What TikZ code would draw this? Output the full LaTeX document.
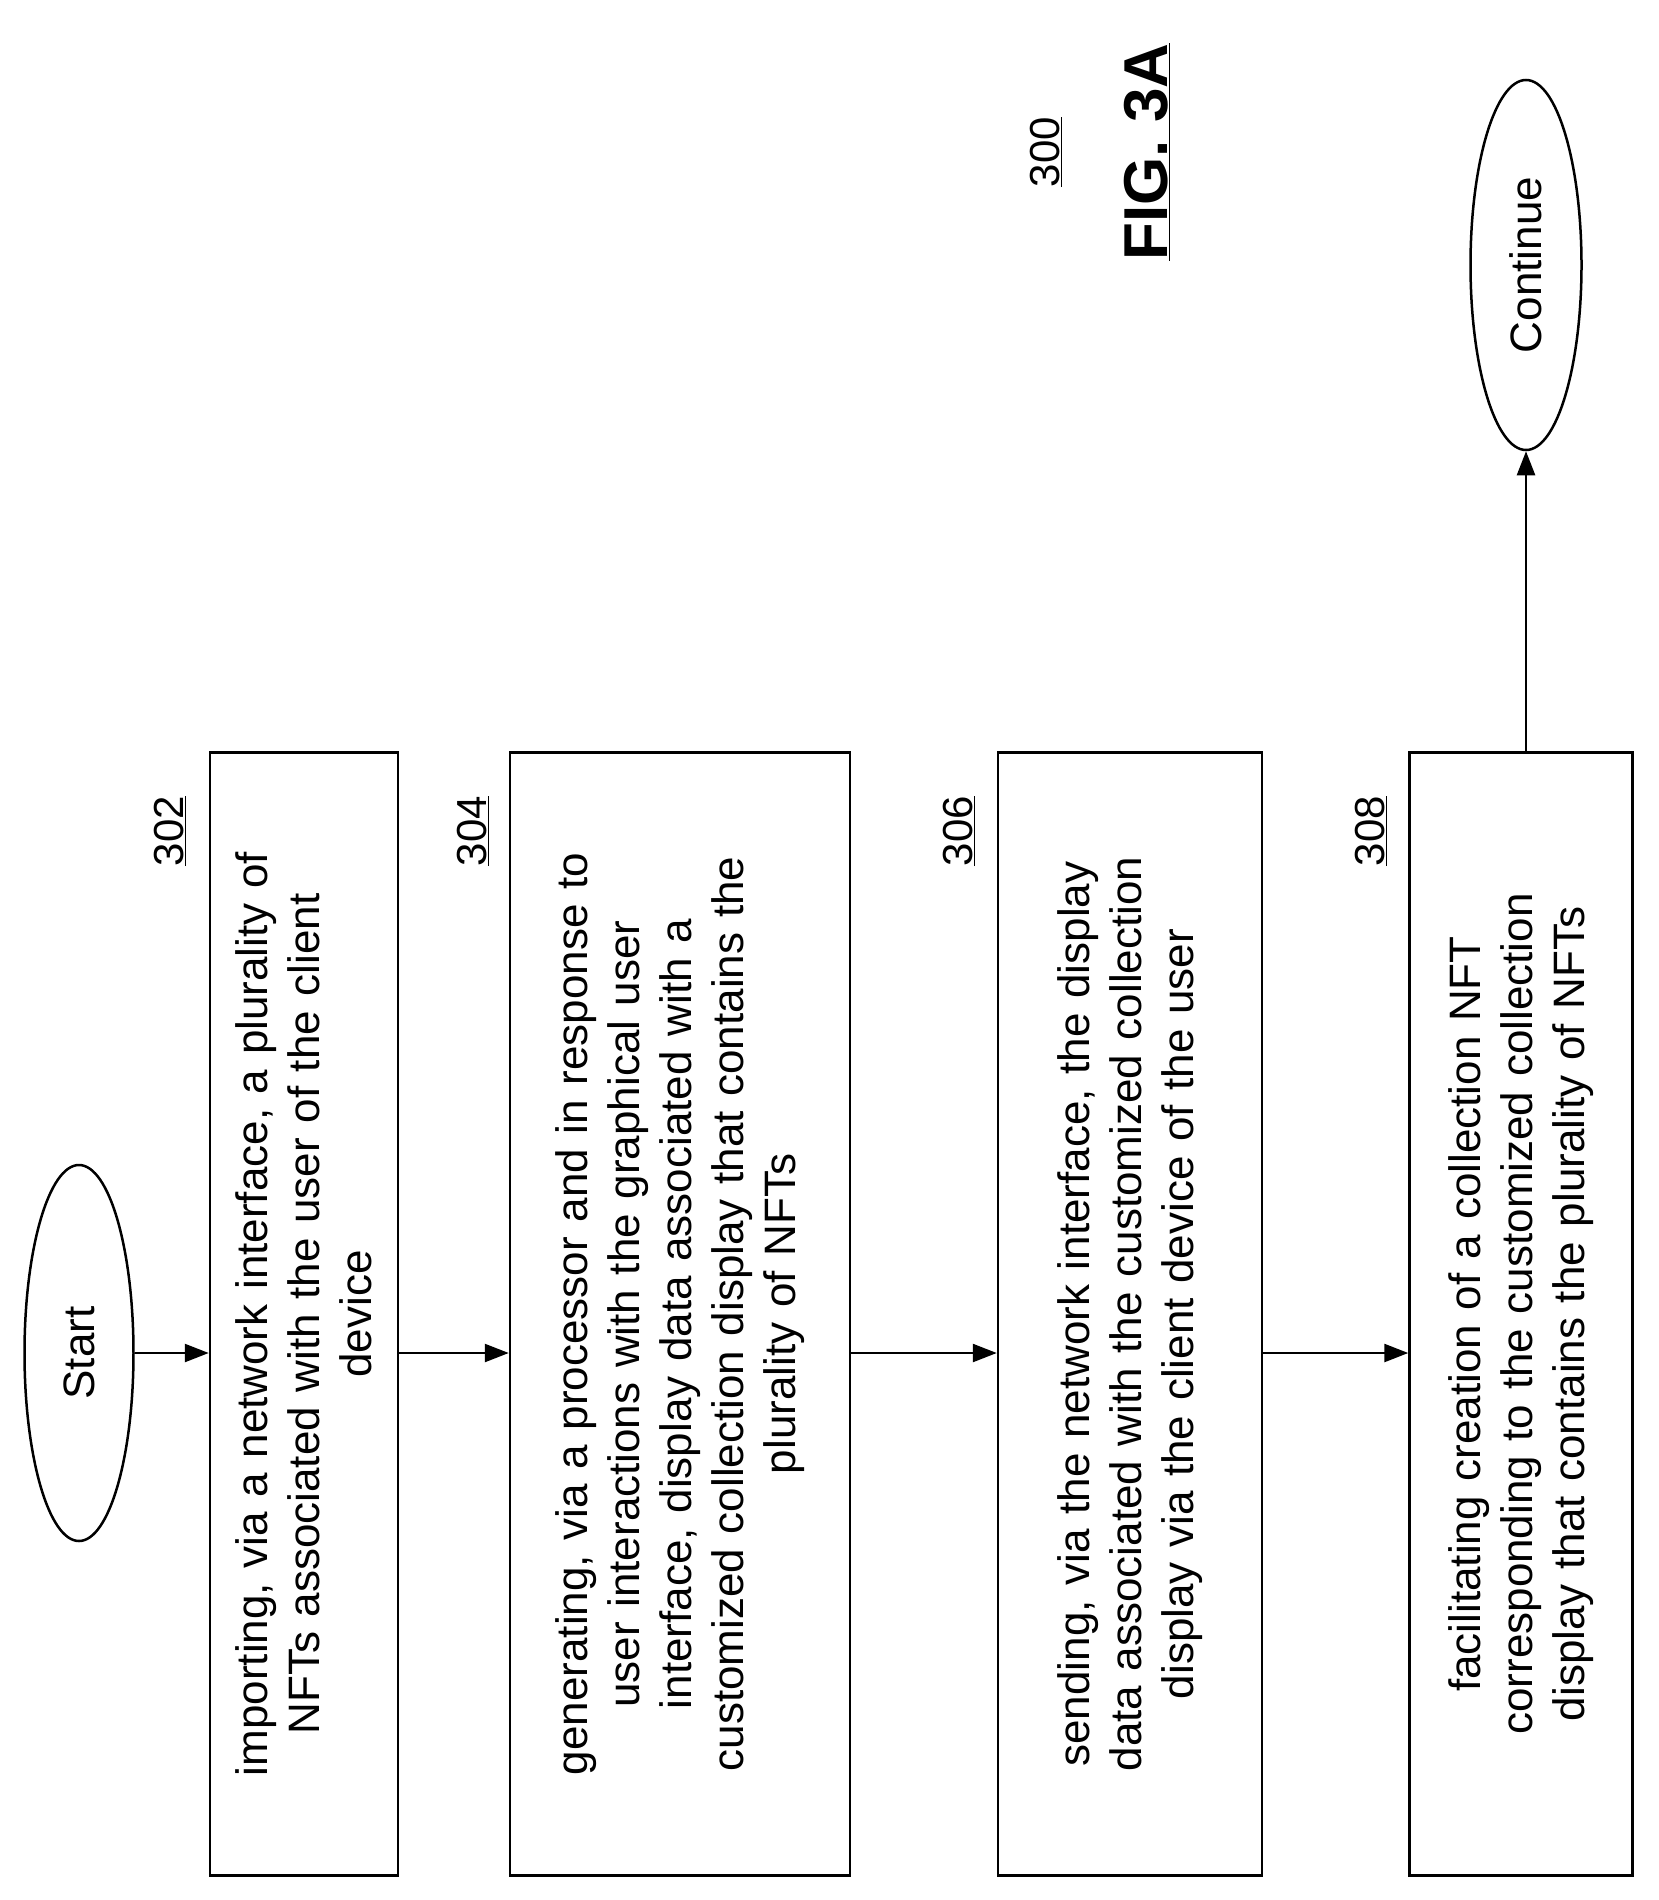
\documentclass[tikz,border=0pt]{standalone}
\usepackage{fontspec}
\setmainfont{Liberation Sans}
\usetikzlibrary{arrows.meta,shapes.geometric}
\begin{document}
\begin{tikzpicture}[x=1pt,y=-1pt,
 box/.style={draw,line width=2.5pt,rotate=90,minimum width=1123pt,text width=1080pt,align=center,font=\fontsize{44}{52}\selectfont,inner sep=0pt},
 term/.style={draw,ellipse,line width=2.5pt,rotate=90,font=\fontsize{44}{52}\selectfont,inner sep=0pt},
 lab/.style={rotate=90,font=\fontsize{42}{50}\selectfont},
 arr/.style={line width=2.5pt,-{Triangle[length=24pt,width=18pt]}}]
\useasboundingbox (0,0) rectangle (1658,1900);
\node[term,minimum width=376pt,minimum height=109pt] (start) at (79,1353) {Start};
\node[box,minimum height=188pt] (b302) at (304,1314) {importing, via a network interface, a plurality of\\NFTs associated with the user of the client\\device};
\node[box,minimum height=340pt] (b304) at (680,1314) {generating, via a processor and in response to\\user interactions with the graphical user\\interface, display data associated with a\\customized collection display that contains the\\plurality of NFTs};
\node[box,minimum height=264pt] (b306) at (1130,1314) {sending, via the network interface, the display\\data associated with the customized collection\\display via the client device of the user};
\node[box,minimum height=223pt] (b308) at (1521,1314) {facilitating creation of a collection NFT\\corresponding to the customized collection\\display that contains the plurality of NFTs};
\node[term,minimum width=370pt,minimum height=111pt] (cont) at (1526,265) {Continue};
\node[lab] (l302) at (170,831) {\underline{302}};
\node[lab] (l304) at (473,831) {\underline{304}};
\node[lab] (l306) at (959,831) {\underline{306}};
\node[lab] (l308) at (1371,831) {\underline{308}};
\node[lab] (l300) at (1046,152) {\underline{300}};
\node[rotate=90,font=\bfseries\fontsize{62}{70}\selectfont] (fig) at (1147,152) {\underline{FIG. 3A}};
\draw[arr] (start.south) -- (b302.north |- start.south);
\draw[arr] (b302.south |- start.south) -- (b304.north |- start.south);
\draw[arr] (b304.south |- start.south) -- (b306.north |- start.south);
\draw[arr] (b306.south |- start.south) -- (b308.north |- start.south);
\draw[arr] (b308.east -| cont.west) -- (cont.west);
\end{tikzpicture}
\end{document}
